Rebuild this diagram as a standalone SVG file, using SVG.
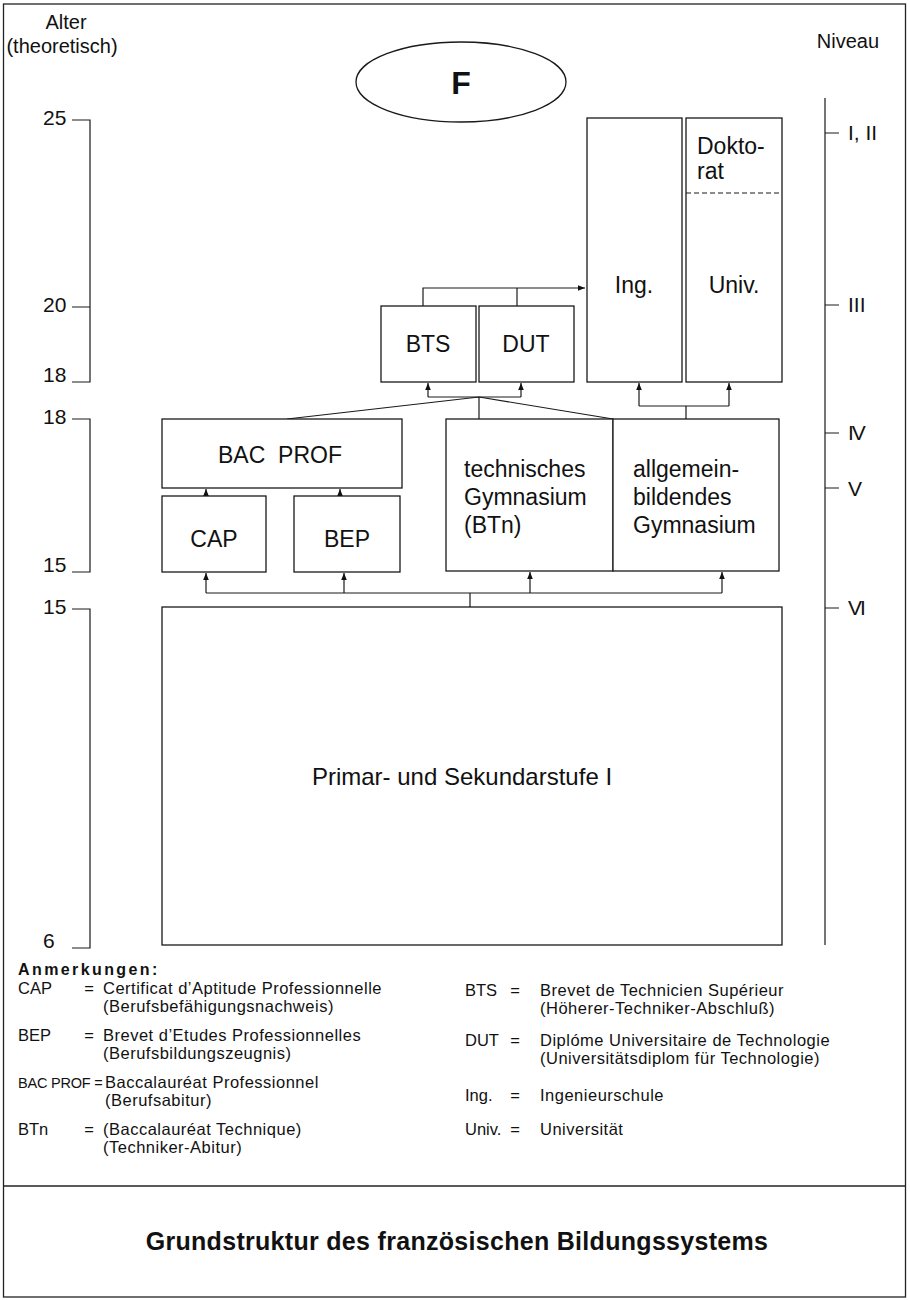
<svg xmlns="http://www.w3.org/2000/svg" width="910" height="1300" viewBox="0 0 910 1300">
<defs>
<style>
.frame{fill:none;stroke:#222;stroke-width:1.3}
.box{fill:#fff;stroke:#1a1a1a;stroke-width:1.3}
.ln{fill:none;stroke:#1a1a1a;stroke-width:1.2}
.t{font-family:"Liberation Sans",Arial,sans-serif;fill:#111}
.lbl{font-size:23px}
.ax{font-size:20px}
.num{font-size:21px}
.lg{font-size:16.5px;letter-spacing:0.5px}
.lk{font-size:16.5px}
</style>
<marker id="ah" markerWidth="8" markerHeight="8" refX="7" refY="4" orient="auto" markerUnits="userSpaceOnUse">
<path d="M0,1.2 L7,4 L0,6.8 z" fill="#111"/>
</marker>
</defs>
<rect width="910" height="1300" fill="#fff"/>

<g id="frame">
<rect class="frame" x="3.5" y="4" width="902" height="1293"/>
<line class="frame" x1="3.5" y1="1186" x2="905.5" y2="1186"/>
</g>

<g id="age-axis">
<text class="t ax" x="66" y="29" text-anchor="middle">Alter</text>
<text class="t ax" x="62" y="53" text-anchor="middle">(theoretisch)</text>
<path class="ln" d="M72,120 H90 V382 H72 M72,307 H90"/>
<path class="ln" d="M72,419 H90 V572 H72"/>
<path class="ln" d="M72,609 H90 V948 H72"/>
<text class="t num" x="43" y="125">25</text>
<text class="t num" x="43" y="312">20</text>
<text class="t num" x="43" y="382">18</text>
<text class="t num" x="43" y="424">18</text>
<text class="t num" x="43" y="572">15</text>
<text class="t num" x="43" y="614">15</text>
<text class="t num" x="43" y="948">6</text>
</g>

<g id="niveau-axis">
<text class="t ax" x="848" y="48" text-anchor="middle">Niveau</text>
<path class="ln" d="M825,98 V945 M825,133 H839 M825,305 H839 M825,433 H839 M825,488 H839 M825,608 H839"/>
<text class="t num" x="848" y="140">I, II</text>
<text class="t num" x="848" y="312">III</text>
<text class="t num" x="848" y="440" letter-spacing="-2">IV</text>
<text class="t num" x="848" y="496">V</text>
<text class="t num" x="848" y="615" letter-spacing="-2">VI</text>
</g>

<g id="country">
<ellipse class="box" cx="461" cy="82" rx="105" ry="40"/>
<text class="t" x="461" y="94" text-anchor="middle" font-size="32" font-weight="bold">F</text>
</g>

<g id="connectors">
<path class="ln" d="M423,306 V288 H585" marker-end="url(#ah)"/>
<path class="ln" d="M517,306 V288"/>
<path class="ln" d="M479,419 V397 M479,397 L287,419 M479,397 L613,419"/>
<path class="ln" d="M428,397 H521"/>
<path class="ln" d="M428,397 V383" marker-end="url(#ah)"/>
<path class="ln" d="M521,397 V383" marker-end="url(#ah)"/>
<path class="ln" d="M686,419 V406 M639,406 H729"/>
<path class="ln" d="M639,406 V383" marker-end="url(#ah)"/>
<path class="ln" d="M729,406 V383" marker-end="url(#ah)"/>
<path class="ln" d="M206,496 V489" marker-end="url(#ah)"/>
<path class="ln" d="M340,496 V489" marker-end="url(#ah)"/>
<path class="ln" d="M470,607 V593 M206,593 H722"/>
<path class="ln" d="M206,593 V573" marker-end="url(#ah)"/>
<path class="ln" d="M344,593 V573" marker-end="url(#ah)"/>
<path class="ln" d="M530,593 V572" marker-end="url(#ah)"/>
<path class="ln" d="M722,593 V572" marker-end="url(#ah)"/>
</g>

<g id="ing">
<rect class="box" x="587" y="118" width="95" height="264"/>
<text class="t lbl" x="634" y="293" text-anchor="middle">Ing.</text>
</g>

<g id="univ">
<rect class="box" x="686" y="118" width="96" height="264"/>
<line x1="686" y1="193" x2="782" y2="193" stroke="#1a1a1a" stroke-width="1.1" stroke-dasharray="5,3"/>
<text class="t lbl" x="697" y="154">Dokto-</text>
<text class="t lbl" x="697" y="179">rat</text>
<text class="t lbl" x="734" y="293" text-anchor="middle">Univ.</text>
</g>

<g id="bts">
<rect class="box" x="381" y="306" width="95" height="76"/>
<text class="t lbl" x="428" y="352" text-anchor="middle">BTS</text>
</g>

<g id="dut">
<rect class="box" x="479" y="306" width="95" height="76"/>
<text class="t lbl" x="526" y="352" text-anchor="middle">DUT</text>
</g>

<g id="bacprof">
<rect class="box" x="162" y="419" width="240" height="69"/>
<text class="t lbl" x="280" y="463" text-anchor="middle" xml:space="preserve">BAC  PROF</text>
</g>

<g id="cap">
<rect class="box" x="162" y="496" width="104" height="76"/>
<text class="t lbl" x="214" y="547" text-anchor="middle">CAP</text>
</g>

<g id="bep">
<rect class="box" x="294" y="496" width="106" height="76"/>
<text class="t lbl" x="347" y="547" text-anchor="middle">BEP</text>
</g>

<g id="tech-gym">
<rect class="box" x="446" y="419" width="167" height="152"/>
<text class="t lbl" x="464" y="477">technisches</text>
<text class="t lbl" x="464" y="505">Gymnasium</text>
<text class="t lbl" x="464" y="533">(BTn)</text>
</g>

<g id="allg-gym">
<rect class="box" x="613" y="419" width="166" height="152"/>
<text class="t lbl" x="633" y="477">allgemein-</text>
<text class="t lbl" x="633" y="505">bildendes</text>
<text class="t lbl" x="633" y="533">Gymnasium</text>
</g>

<g id="primar">
<rect class="box" x="162" y="607" width="620" height="338"/>
<text class="t" x="462" y="785" text-anchor="middle" font-size="24">Primar- und Sekundarstufe I</text>
</g>

<g id="legend">
<text class="t" x="18" y="975" font-size="16" font-weight="bold" letter-spacing="2.4">Anmerkungen:</text>
<text class="t lk" x="18" y="994">CAP</text>
<text class="t lk" x="89" y="994" text-anchor="middle">=</text>
<text class="t lg" x="103" y="994">Certificat d’Aptitude Professionnelle</text>
<text class="t lg" x="103" y="1012">(Berufsbefähigungsnachweis)</text>
<text class="t lk" x="18" y="1041">BEP</text>
<text class="t lk" x="89" y="1041" text-anchor="middle">=</text>
<text class="t lg" x="103" y="1041">Brevet d’Etudes Professionnelles</text>
<text class="t lg" x="103" y="1059">(Berufsbildungszeugnis)</text>
<text class="t" x="18" y="1088" font-size="14.5" letter-spacing="-0.2">BAC PROF =</text>
<text class="t lg" x="105" y="1088">Baccalauréat Professionnel</text>
<text class="t lg" x="105" y="1106">(Berufsabitur)</text>
<text class="t lk" x="18" y="1135">BTn</text>
<text class="t lk" x="89" y="1135" text-anchor="middle">=</text>
<text class="t lg" x="103" y="1135">(Baccalauréat Technique)</text>
<text class="t lg" x="103" y="1153">(Techniker-Abitur)</text>

<text class="t lk" x="465" y="996">BTS</text>
<text class="t lk" x="515" y="996" text-anchor="middle">=</text>
<text class="t lg" x="540" y="996">Brevet de Technicien Supérieur</text>
<text class="t lg" x="540" y="1014">(Höherer-Techniker-Abschluß)</text>
<text class="t lk" x="465" y="1046">DUT</text>
<text class="t lk" x="515" y="1046" text-anchor="middle">=</text>
<text class="t lg" x="540" y="1046">Diplóme Universitaire de Technologie</text>
<text class="t lg" x="540" y="1064">(Universitätsdiplom für Technologie)</text>
<text class="t lk" x="465" y="1101">Ing.</text>
<text class="t lk" x="515" y="1101" text-anchor="middle">=</text>
<text class="t lg" x="540" y="1101">Ingenieurschule</text>
<text class="t lk" x="465" y="1135">Univ.</text>
<text class="t lk" x="515" y="1135" text-anchor="middle">=</text>
<text class="t lg" x="540" y="1135">Universität</text>
</g>

<g id="title">
<text class="t" x="457" y="1250" text-anchor="middle" font-size="25" font-weight="bold" letter-spacing="0.3">Grundstruktur des französischen Bildungssystems</text>
</g>
</svg>
